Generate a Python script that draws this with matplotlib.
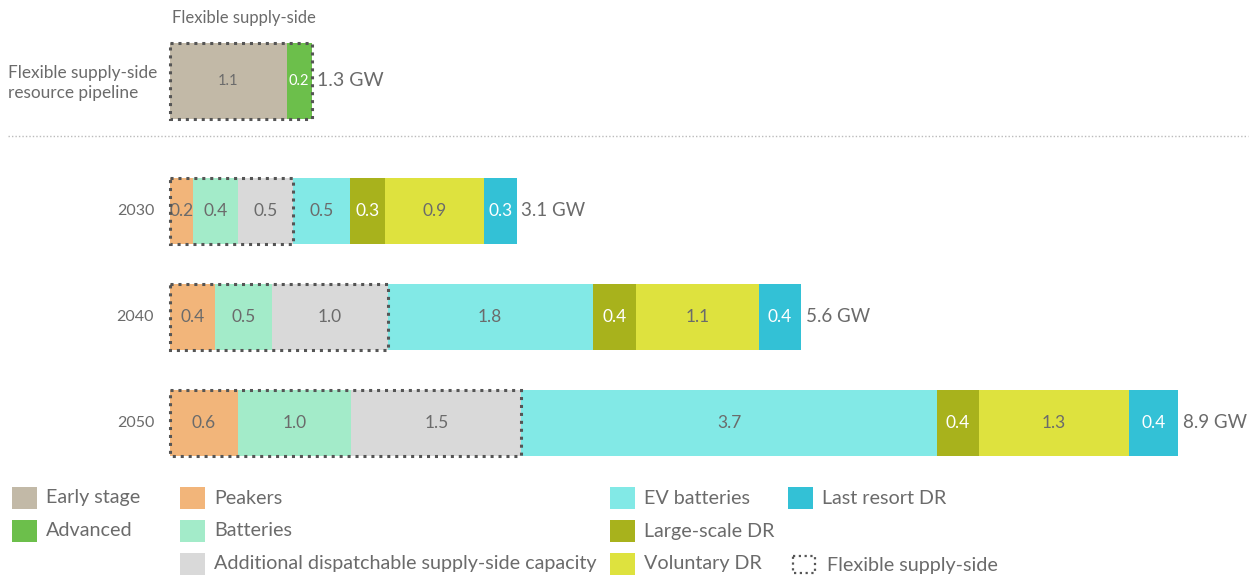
import matplotlib
matplotlib.use('Agg')
import matplotlib.pyplot as plt
from matplotlib.patches import Rectangle

plt.rcParams['font.family'] = ['Lato', 'DejaVu Sans']

# segment names and colours
series = ['Peakers', 'Batteries', 'Additional dispatchable supply-side capacity',
          'EV batteries', 'Large-scale DR', 'Voluntary DR', 'Last resort DR']
colors = ['#F2B57A', '#A3EBC9', '#D9D9D9', '#82E9E6', '#A8B21C', '#DEE23E', '#33C1D6']
white_text = ['Large-scale DR', 'Last resort DR']

years = ['2030', '2040', '2050']
# GW per segment (bar widths), labels as printed on the chart
values = {
    '2030': [0.20, 0.40, 0.49, 0.50, 0.31, 0.87, 0.29],
    '2040': [0.40, 0.50, 1.02, 1.81, 0.38, 1.09, 0.37],
    '2050': [0.60, 1.00, 1.50, 3.67, 0.37, 1.32, 0.44],
}
labels = {
    '2030': ['0.2', '0.4', '0.5', '0.5', '0.3', '0.9', '0.3'],
    '2040': ['0.4', '0.5', '1.0', '1.8', '0.4', '1.1', '0.4'],
    '2050': ['0.6', '1.0', '1.5', '3.7', '0.4', '1.3', '0.4'],
}
totals = ['3.1 GW', '5.6 GW', '8.9 GW']
n_flexible = 3  # first three segments are flexible supply-side

pipe_names = ['Early stage', 'Advanced']
pipe_colors = ['#C2B9A7', '#6CBF4B']
pipe_values = [1.03, 0.22]
pipe_labels = ['1.1', '0.2']
pipe_total = '1.3 GW'

txt = '#6b6b6b'
dot_col = '#555555'
dotted = (0, (1, 1.6))

W, H = 1253, 576
fig = plt.figure(figsize=(W / 100, H / 100), dpi=100)

# main axes: x in GW, y in pixel rows
px_per_gw = 113.3
x0 = 170
ax = fig.add_axes([0, 0, 1, 1])
ax.set_xlim(-x0 / px_per_gw, (W - x0) / px_per_gw)
ax.set_ylim(H, 0)
ax.axis('off')

row_y = [211, 317, 423]
row_h = 66

for yr, y, tot in zip(years, row_y, totals):
    left = 0
    for i, (v, lab) in enumerate(zip(values[yr], labels[yr])):
        ax.barh(y, v, left=left, height=row_h, color=colors[i], edgecolor='none')
        c = 'white' if series[i] in white_text else txt
        ax.text(left + v / 2, y, lab, ha='center', va='center', fontsize=12.5, color=c)
        left += v
    ax.text(left + 0.04, y, tot, ha='left', va='center', fontsize=13.5, color=txt)
    ax.text(-0.14, y, yr, ha='right', va='center', fontsize=11.5, color=txt)
    flex = sum(values[yr][:n_flexible])
    ax.add_patch(Rectangle((0, y - row_h / 2), flex, row_h, fill=False,
                           edgecolor=dot_col, linewidth=2.2, linestyle=dotted, zorder=5))

# pipeline bar
py, ph = 81, 76
left = 0
for v, lab, col, nm in zip(pipe_values, pipe_labels, pipe_colors, pipe_names):
    ax.barh(py, v, left=left, height=ph, color=col, edgecolor='none')
    c = 'white' if nm == 'Advanced' else txt
    ax.text(left + v / 2, py, lab, ha='center', va='center', fontsize=10.5, color=c)
    left += v
ax.add_patch(Rectangle((0, py - ph / 2), left, ph, fill=False,
                       edgecolor=dot_col, linewidth=2.2, linestyle=dotted, zorder=5))
ax.text(left + 0.05, py, pipe_total, ha='left', va='center', fontsize=14, color=txt)
ax.text(0.02, 18, 'Flexible supply-side', ha='left', va='center', fontsize=12, color=txt)

# overlay axes in pixels for free text, separator and legend
lx = fig.add_axes([0, 0, 1, 1])
lx.set_xlim(0, W)
lx.set_ylim(H, 0)
lx.axis('off')
lx.patch.set_alpha(0)

lx.text(8, 83, 'Flexible supply-side\nresource pipeline', ha='left', va='center',
        fontsize=12.4, color=txt, linespacing=1.35)
lx.plot([8, 1248], [136, 136], color='#bbbbbb', linewidth=1, linestyle=(0, (1, 1.5)))

legend_items = [
    (12, 498, 'Early stage', pipe_colors[0]),
    (12, 531, 'Advanced', pipe_colors[1]),
    (180, 498, series[0], colors[0]),
    (180, 531, series[1], colors[1]),
    (180, 564, series[2], colors[2]),
    (610, 498, series[3], colors[3]),
    (610, 531, series[4], colors[4]),
    (610, 564, series[5], colors[5]),
    (788, 498, series[6], colors[6]),
]
for x, y, name, col in legend_items:
    lx.add_patch(Rectangle((x, y - 11), 25, 22, color=col, linewidth=0))
    lx.text(x + 34, y, name, ha='left', va='center', fontsize=14.2, color=txt)

lx.add_patch(Rectangle((793, 556), 22, 17, fill=False, edgecolor=dot_col,
                       linewidth=1.6, linestyle=dotted))
lx.text(827, 566, 'Flexible supply-side', ha='left', va='center', fontsize=14.2, color=txt)

fig.savefig('out.png', dpi=100)
